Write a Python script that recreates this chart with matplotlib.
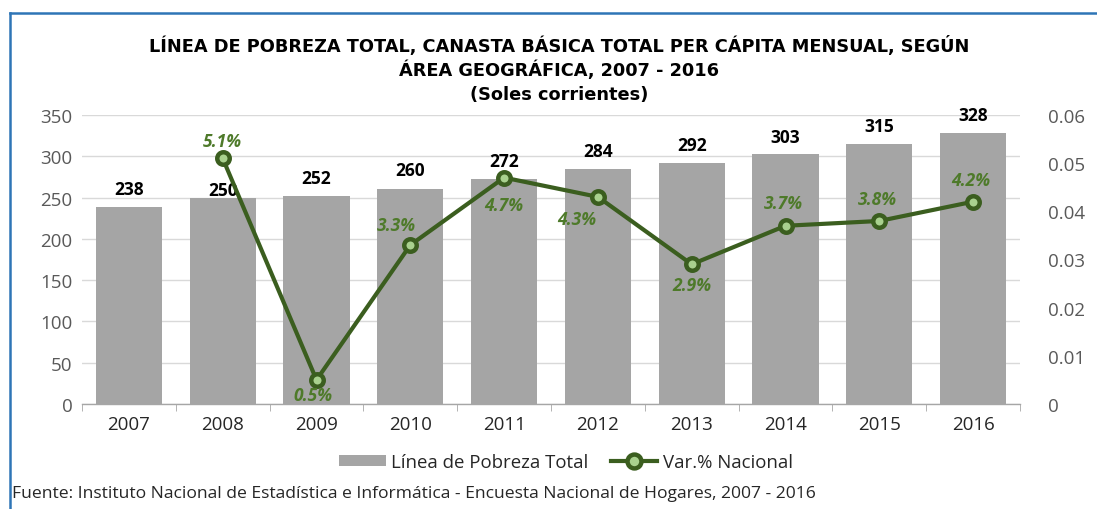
import matplotlib
matplotlib.use("Agg")
import matplotlib.pyplot as plt
from matplotlib.lines import Line2D
from matplotlib.patches import Patch
from matplotlib.ticker import FuncFormatter, FixedLocator
import numpy as np

plt.rcParams['font.family'] = ['Open Sans', 'DejaVu Sans']

years = ['2007', '2008', '2009', '2010', '2011', '2012', '2013', '2014', '2015', '2016']
linea_pobreza = [238, 250, 252, 260, 272, 284, 292, 303, 315, 328]
var_nacional = [None, 0.051, 0.005, 0.033, 0.047, 0.043, 0.029, 0.037, 0.038, 0.042]
var_labels = ['', '5.1%', '0.5%', '3.3%', '4.7%', '4.3%', '2.9%', '3.7%', '3.8%', '4.2%']

# label offsets in pixels (layout only)
pct_offsets = [(0, 0), (0, 17), (-4, -15), (-14, 20), (0, -27), (-21, -22), (0, -21), (-2, 23), (-2, 22), (-2, 22)]
bar_offsets = [18, 8, 18, 19, 18, 18, 18, 17, 18, 18]

W, H = 1097, 510
fig = plt.figure(figsize=(W / 100, H / 100), dpi=100)
ax = fig.add_axes([82 / W, 1 - 405 / H, (1020 - 82) / W, (405 - 116) / H])

x = np.arange(len(years))
bar_color = '#A5A5A5'
line_color = '#3B5E1F'
label_green = '#4E7A2A'
tick_gray = '#595959'

ax.bar(x, linea_pobreza, width=0.705, color=bar_color, zorder=2)
ax.set_xlim(-0.5, len(years) - 0.5)
ax.set_ylim(0, 350)
ax.set_yticks(np.arange(0, 351, 50))
ax.grid(axis='y', color='#D9D9D9', linewidth=1, zorder=0)
ax.set_axisbelow(True)
for s in ['left', 'right', 'top']:
    ax.spines[s].set_visible(False)
ax.spines['bottom'].set_color('#A6A6A6')
ax.spines['bottom'].set_linewidth(1)
ax.set_xticks(x)
ax.set_xticklabels(years, fontsize=13.5, color='#262626')
ax.xaxis.set_minor_locator(FixedLocator(np.arange(-0.5, len(years), 1.0)))
ax.tick_params(axis='x', which='major', length=0, pad=8)
ax.tick_params(axis='x', which='minor', length=5, color='#A6A6A6')
ax.tick_params(axis='y', length=0, labelsize=13.5, labelcolor=tick_gray, pad=7)

for xi, v, off in zip(x, linea_pobreza, bar_offsets):
    ax.annotate(str(v), (xi, v), xytext=(0, off), textcoords='offset pixels',
                ha='center', va='center', fontsize=12.5, fontweight='bold', color='black', zorder=5)

ax2 = ax.twinx()
ax2.set_ylim(0, 0.06)
ax2.set_yticks(np.arange(0, 0.0601, 0.01))
ax2.yaxis.set_major_formatter(FuncFormatter(lambda v, p: '0' if abs(v) < 1e-9 else f'{v:.2f}'))
for s in ['left', 'right', 'top', 'bottom']:
    ax2.spines[s].set_visible(False)
ax2.tick_params(axis='y', length=0, labelsize=13.5, labelcolor=tick_gray, pad=20)

lx = [xi for xi, v in zip(x, var_nacional) if v is not None]
ly = [v for v in var_nacional if v is not None]
ax2.plot(lx, ly, color=line_color, linewidth=3, marker='o', markersize=9,
         markerfacecolor='#A9D18E', markeredgecolor=line_color, markeredgewidth=3.2, zorder=4)
for xi, v, lab, off in zip(x, var_nacional, var_labels, pct_offsets):
    if v is None:
        continue
    ax2.annotate(lab, (xi, v), xytext=off, textcoords='offset pixels',
                 ha='center', va='center', fontsize=12.5, fontweight='bold', fontstyle='italic',
                 color=label_green, zorder=6)

title_kw = dict(ha='center', va='center', fontsize=12.8, fontweight='bold', color='black',
                family=['DejaVu Sans'])
fig.text(559 / W, 1 - 46 / H, 'LÍNEA DE POBREZA TOTAL, CANASTA BÁSICA TOTAL PER CÁPITA MENSUAL, SEGÚN', **title_kw)
fig.text(559 / W, 1 - 70 / H, 'ÁREA GEOGRÁFICA, 2007 - 2016', **title_kw)
fig.text(559 / W, 1 - 95 / H, '(Soles corrientes)', **title_kw)

handles = [Patch(facecolor=bar_color, edgecolor='none'),
           Line2D([0], [0], color=line_color, linewidth=3, marker='o', markersize=10,
                  markerfacecolor='#A9D18E', markeredgecolor=line_color, markeredgewidth=3.2)]
fig.legend(handles, ['Línea de Pobreza Total', 'Var.% Nacional'], loc='center',
           bbox_to_anchor=(566 / W, 1 - 463 / H), ncol=2, frameon=False, fontsize=13.4,
           handlelength=2.5, handleheight=0.55, handletextpad=0.3, columnspacing=1.2,
           labelcolor='#262626')

fig.text(12 / W, 1 - 494 / H,
         'Fuente: Instituto Nacional de Estadística e Informática - Encuesta Nacional de Hogares, 2007 - 2016',
         ha='left', va='center', fontsize=12.6, color='#262626')

border_color = '#2E75B6'
fig.add_artist(Line2D([9.5 / W, 1], [1 - 14 / H, 1 - 14 / H], color=border_color, linewidth=1.8,
                      transform=fig.transFigure))
fig.add_artist(Line2D([9.5 / W, 9.5 / W], [0, 1 - 14 / H], color=border_color, linewidth=1.8,
                      transform=fig.transFigure))

fig.savefig('out.png', dpi=100)
